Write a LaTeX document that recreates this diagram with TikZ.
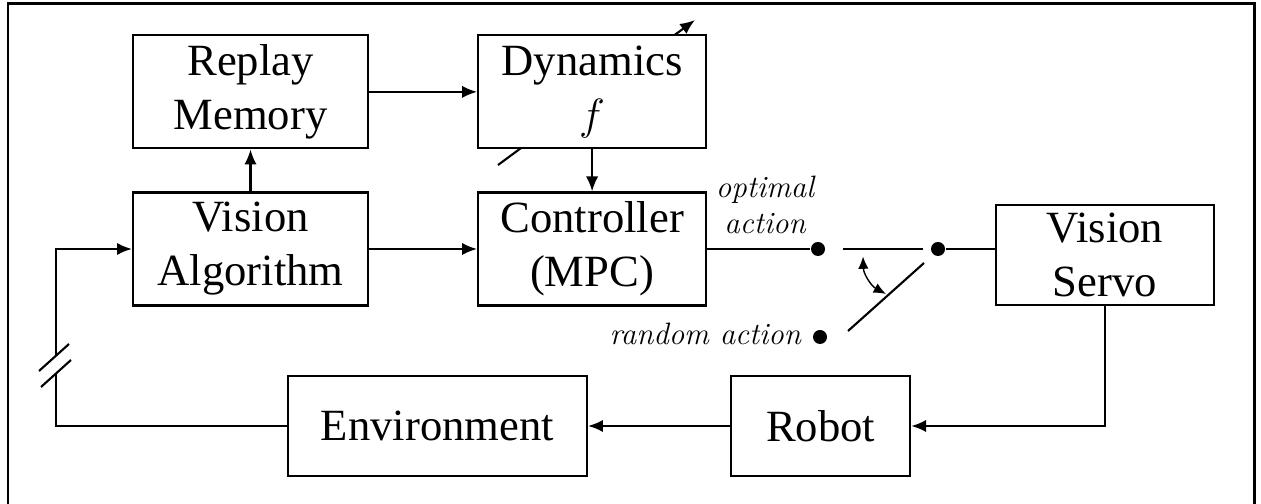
\documentclass[tikz,border=0pt]{standalone}
\usepackage{fontspec}
\setmainfont{Liberation Serif}
\usetikzlibrary{positioning,arrows.meta}

\tikzstyle{block} = [rectangle, draw, fill=white, align=center, inner sep=2pt,
minimum width=4.7cm, minimum height=2.26cm, font=\fontsize{25.4}{30.7}\selectfont]
\tikzstyle{line} = [draw, -{Latex[length=8.5pt,width=7pt]}]
\tikzstyle{dot} = [circle, fill, inner sep=0pt, minimum size=0.28cm]
\tikzstyle{lbl} = [align=center, inner sep=0pt,
font=\fontfamily{lmr}\fontsize{17.6}{20.4}\itshape\selectfont]

\begin{document}
\begin{tikzpicture}[line width=1.2pt]
		\useasboundingbox (0,0) rectangle (25.22,10.08);
		% frame, open at the bottom
		\draw [line width=1.7pt] (0.16,0) -- (0.16,10.0) -- (25.08,10.0) -- (25.08,0);
		
		% tuning arrow through the model block, drawn first so the block hides its middle
		\path [line] (9.96,6.78) -- (13.90,9.68);
		
		\node [block] (valg) at (5.01,5.10) {Vision\\Algorithm};
		\node [block, above=0.84cm of valg] (replay) {Replay\\Memory};
		\node [block, minimum width=4.56cm, right=2.16cm of valg] (ctrl) {Controller\\(MPC)};
		\node [block, minimum width=4.56cm, above=0.84cm of ctrl] (dyn) {Dynamics\\$f$};
		\node [block, minimum width=4.36cm, minimum height=2cm] (vsrv) at (22.10,4.98) {Vision\\Servo};
		\node [block, minimum width=5.98cm, minimum height=2cm] (env) at (8.75,1.56) {Environment};
		\node [block, minimum width=3.58cm, minimum height=2cm, right=2.84cm of env] (robot) {Robot};
		
		% switch between the two actions
		\node [dot] (opt) at (16.36,5.10) {};
		\node [dot] (sw) at (18.76,5.10) {};
		\node [dot] (rnd) at (16.40,3.34) {};
		\node [lbl] (optlbl) at (15.30,5.98) {optimal\\action};
		\node [lbl, anchor=base east] (rndlbl) at (16.04,3.18) {random action};
		\draw (16.86,5.10) -- (18.46,5.10);
		\draw (16.96,3.46) -- (18.48,4.82);
		\draw [{Latex[length=7pt,width=6pt]}-{Latex[length=7pt,width=6pt]}, line width=0.8pt] (17.26,4.95) to [bend right=30] (17.72,4.20);
		
		\path [line] (valg) -- (replay);
		\path [line] (replay) -- (dyn);
		\path [line] (dyn) -- (ctrl);
		\path [line] (valg) -- (ctrl);
		\draw (ctrl.east) -- (opt);
		\draw (sw) -- (sw -| vsrv.west);
		\path [line] (vsrv.south) |- (robot.east);
		\path [line] (robot) -- (env);
		
		% feedback to the vision block, broken on the way up
		\coordinate (brklo) at (1.12,2.61);
		\coordinate (brkhi) at (1.12,2.97);
		\draw (env.west) -| (brklo);
		\path [line] (brkhi) |- (valg.west);
		\draw (0.78,2.66) -- (1.38,3.20);
		\draw (0.82,2.34) -- (1.42,2.88);
	\end{tikzpicture}
\end{document}
